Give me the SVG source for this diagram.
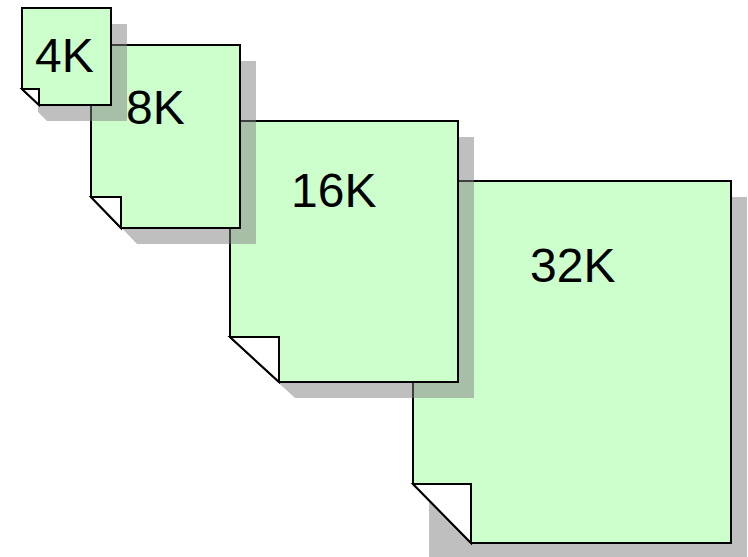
<svg xmlns="http://www.w3.org/2000/svg" width="748" height="557" viewBox="0 0 748 557">
<style>
.page{fill:#ccffcc;stroke:#000;stroke-width:2;stroke-linejoin:miter}
.fold{fill:#fff;stroke:#000;stroke-width:2;stroke-linejoin:miter}
.shadow{fill:#808080;fill-opacity:0.5;stroke:none}
.lbl{font-family:"Liberation Sans",Arial,sans-serif;font-size:48px;fill:#000}
</style>
<rect width="748" height="557" fill="#fff"/>
<g id="connectors"></g>
<g id="node-32K">
<path class="shadow" d="M429,197 H747 V560 H429 Z"/>
<path class="page" d="M413,181 H731 V543 H471 L413,484 Z"/>
<path class="fold" d="M413,484 H471 V543 Z"/>
<text class="lbl" x="530" y="282">32K</text>
</g>
<g id="node-16K">
<path class="shadow" d="M246,137 H474 V398 H295 L246,353 Z"/>
<path class="page" d="M230,121 H458 V382 H279 L230,337 Z"/>
<path class="fold" d="M230,337 H279 V382 Z"/>
<text class="lbl" x="291" y="207">16K</text>
</g>
<g id="node-8K">
<path class="shadow" d="M107,61 H256 V244 H137 L107,213 Z"/>
<path class="page" d="M91,45 H240 V228 H121 L91,197 Z"/>
<path class="fold" d="M91,197 H121 V228 Z"/>
<text class="lbl" x="126" y="124">8K</text>
</g>
<g id="node-4K">
<path class="shadow" d="M38,24 H127 V121 H47 L38,112 Z"/>
<path class="page" d="M22,8 H111 V105 H39 L22,89 Z"/>
<path class="fold" d="M22,89 H39 V105 Z"/>
<text class="lbl" x="35" y="72">4K</text>
</g>
</svg>
